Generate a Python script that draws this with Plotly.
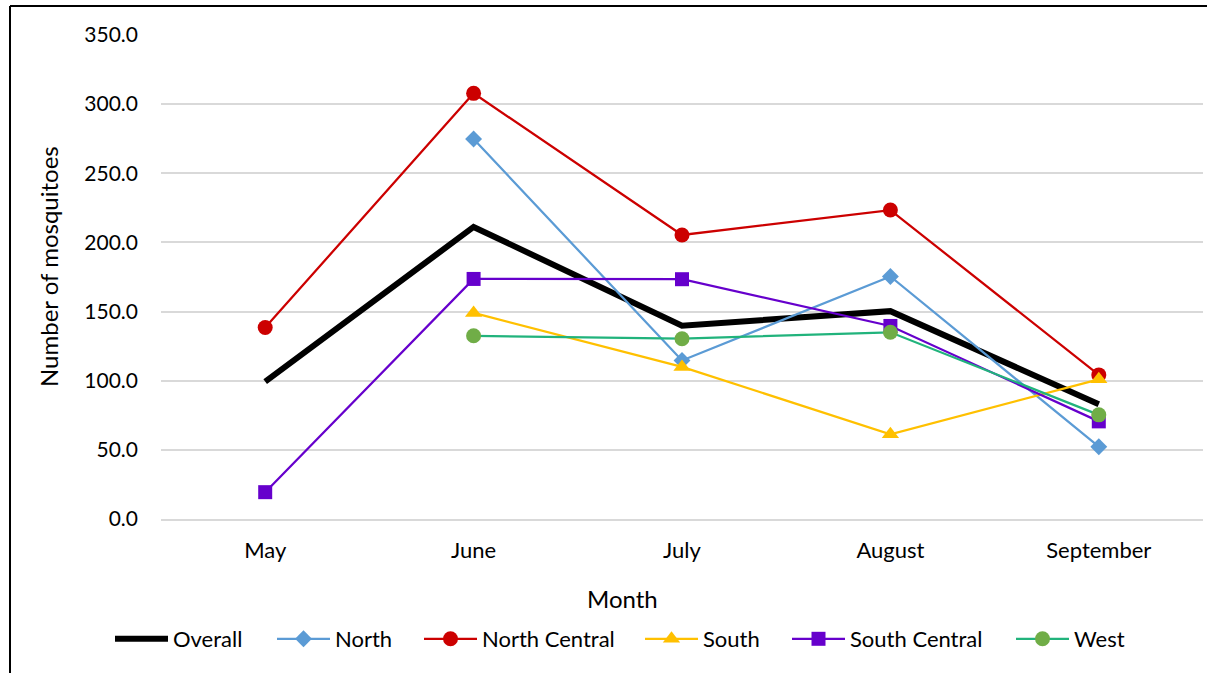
import plotly.graph_objects as go

months = ["May", "June", "July", "August", "September"]

overall = [99.3, 211.2, 139.8, 150.3, 83.0]
north = [None, 274.8, 114.6, 175.4, 52.3]
north_central = [138.5, 307.8, 205.4, 223.4, 104.2]
south = [None, 149.0, 110.0, 61.2, 101.0]
south_central = [19.4, 173.6, 173.4, 139.6, 70.6]
west = [None, 132.5, 130.4, 135.0, 75.3]

y_ticks = [0, 50, 100, 150, 200, 250, 300, 350]

FONT = "Lato"
PLOT_LEFT, PLOT_WIDTH = 161, 1042
PLOT_TOP, PLOT_HEIGHT = 35, 484


def px_to_paper_x(px):
    return (px - PLOT_LEFT) / PLOT_WIDTH


def px_to_paper_y(py):
    return (PLOT_TOP + PLOT_HEIGHT - py) / PLOT_HEIGHT


fig = go.Figure()

fig.add_trace(go.Scatter(
    x=months, y=overall, name="Overall", mode="lines",
    line=dict(color="#000000", width=6), legend="legend",
))

series = [
    ("North", north, "#5B9BD5", "#5B9BD5", "diamond", 13),
    ("North Central", north_central, "#CC0000", "#CC0000", "circle", 15),
    ("South", south, "#FFC000", "#FFC000", "triangle-up", 15),
    ("South Central", south_central, "#6600CC", "#6600CC", "square", 14),
    ("West", west, "#21B37C", "#70AD47", "circle", 15),
]
legend_ids = ["legend2", "legend3", "legend4", "legend5", "legend6"]
for (name, vals, lcol, mcol, sym, size), lid in zip(series, legend_ids):
    fig.add_trace(go.Scatter(
        x=months, y=vals, name=name, mode="lines+markers",
        line=dict(color=lcol, width=2.25),
        marker=dict(symbol=sym, size=size, color=mcol, line=dict(width=0)),
        legend=lid,
    ))

# One legend box per entry so each entry sits at its own spot along the bottom row
legend_starts = [110, 272, 419, 640, 787, 1011]
legend_style = dict(
    orientation="h", yanchor="middle", y=px_to_paper_y(639), xanchor="left",
    font=dict(size=22, family=FONT, color="#000000"),
    itemwidth=53, bgcolor="rgba(0,0,0,0)", borderwidth=0,
)
legend_layout = {}
for lid, start in zip(["legend"] + legend_ids, legend_starts):
    legend_layout[lid] = dict(legend_style, x=px_to_paper_x(start))

# Axis titles, centred on the whole chart box
fig.add_annotation(text="Month", xref="paper", yref="paper",
                   x=px_to_paper_x(622), y=px_to_paper_y(598),
                   xanchor="center", yanchor="middle", showarrow=False,
                   font=dict(size=24, family=FONT, color="#000000"))
fig.add_annotation(text="Number of mosquitoes", xref="paper", yref="paper",
                   x=px_to_paper_x(48), y=px_to_paper_y(267), textangle=-90,
                   xanchor="center", yanchor="middle", showarrow=False,
                   font=dict(size=24, family=FONT, color="#000000"))

# Frame around the chart area (left and top edges)
fig.add_shape(type="line", xref="paper", yref="paper",
              x0=px_to_paper_x(10), x1=px_to_paper_x(10),
              y0=px_to_paper_y(6), y1=px_to_paper_y(680),
              line=dict(color="#000000", width=2))
fig.add_shape(type="line", xref="paper", yref="paper",
              x0=px_to_paper_x(10), x1=px_to_paper_x(1215),
              y0=px_to_paper_y(6), y1=px_to_paper_y(6),
              line=dict(color="#000000", width=2))

fig.update_layout(
    width=1207, height=673,
    margin=dict(l=PLOT_LEFT, r=1207 - PLOT_LEFT - PLOT_WIDTH, t=PLOT_TOP,
                b=673 - PLOT_TOP - PLOT_HEIGHT),
    paper_bgcolor="white", plot_bgcolor="white",
    font=dict(family=FONT, color="#000000"),
    showlegend=True,
    xaxis=dict(
        type="category", categoryorder="array", categoryarray=months,
        range=[-0.5, 4.5],
        showgrid=False, showline=True, linecolor="#D9D9D9", linewidth=1.5,
        ticks="", tickfont=dict(size=22, family=FONT),
        ticklabelstandoff=11, zeroline=False,
    ),
    yaxis=dict(
        range=[0, 350], tickvals=y_ticks, tickformat=".1f",
        showgrid=True, gridcolor="#D9D9D9", gridwidth=1.5,
        zeroline=False, showline=False, ticks="",
        tickfont=dict(size=21, family=FONT),
        ticklabelstandoff=22,
    ),
    **legend_layout,
)

fig.write_html("out.html")
